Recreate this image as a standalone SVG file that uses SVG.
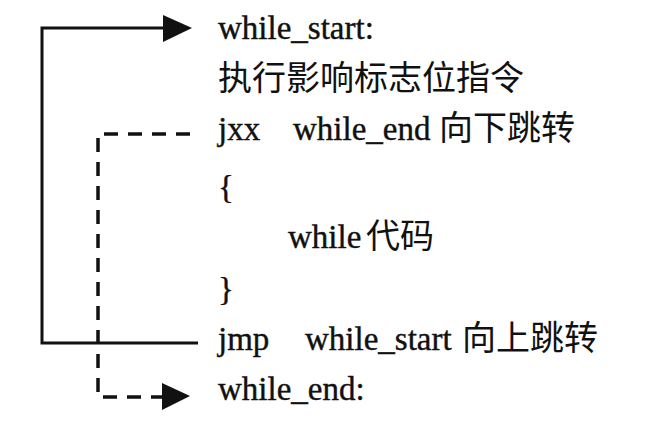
<svg xmlns="http://www.w3.org/2000/svg" width="645" height="427" viewBox="0 0 645 427">
<defs>
<style>
.t{font-family:"Liberation Serif","Noto Sans CJK SC",serif;font-size:33px;fill:#111;stroke:#111;stroke-width:0.4}
.c{font-family:"Noto Sans CJK SC","Liberation Serif",serif;font-size:34px;fill:#111}
.s{fill:none;stroke:#111;stroke-width:3}
.d{fill:none;stroke:#111;stroke-width:3.5;stroke-dasharray:14 10}
.h{fill:#111}
</style>
</defs>
<rect width="645" height="427" fill="#fff"/>
<g id="connectors">
<path class="s" d="M198 343 H42 V28 H168"/>
<polygon class="h" points="163,15 192,28 163,42"/>
<path class="d" d="M190 134 H98 V397 H166"/>
<polygon class="h" points="162,383 190,396 162,410"/>
</g>
<g id="while_start"><text class="t" x="218" y="39">while_start:</text></g>
<g id="flags"><text class="c" x="218" y="90">执行影响标志位指令</text></g>
<g id="jxx"><text class="t" x="218" y="140">jxx</text><text class="t" x="293" y="140">while_end</text><text class="c" x="439" y="140">向下跳转</text></g>
<g id="open"><text class="t" x="218" y="198">{</text></g>
<g id="body"><text class="t" x="288" y="248">while</text><text class="c" x="366" y="248">代码</text></g>
<g id="close"><text class="t" x="218" y="300">}</text></g>
<g id="jmp"><text class="t" x="218" y="350">jmp</text><text class="t" x="305" y="350">while_start</text><text class="c" x="462" y="350">向上跳转</text></g>
<g id="while_end"><text class="t" x="218" y="400">while_end:</text></g>
</svg>
